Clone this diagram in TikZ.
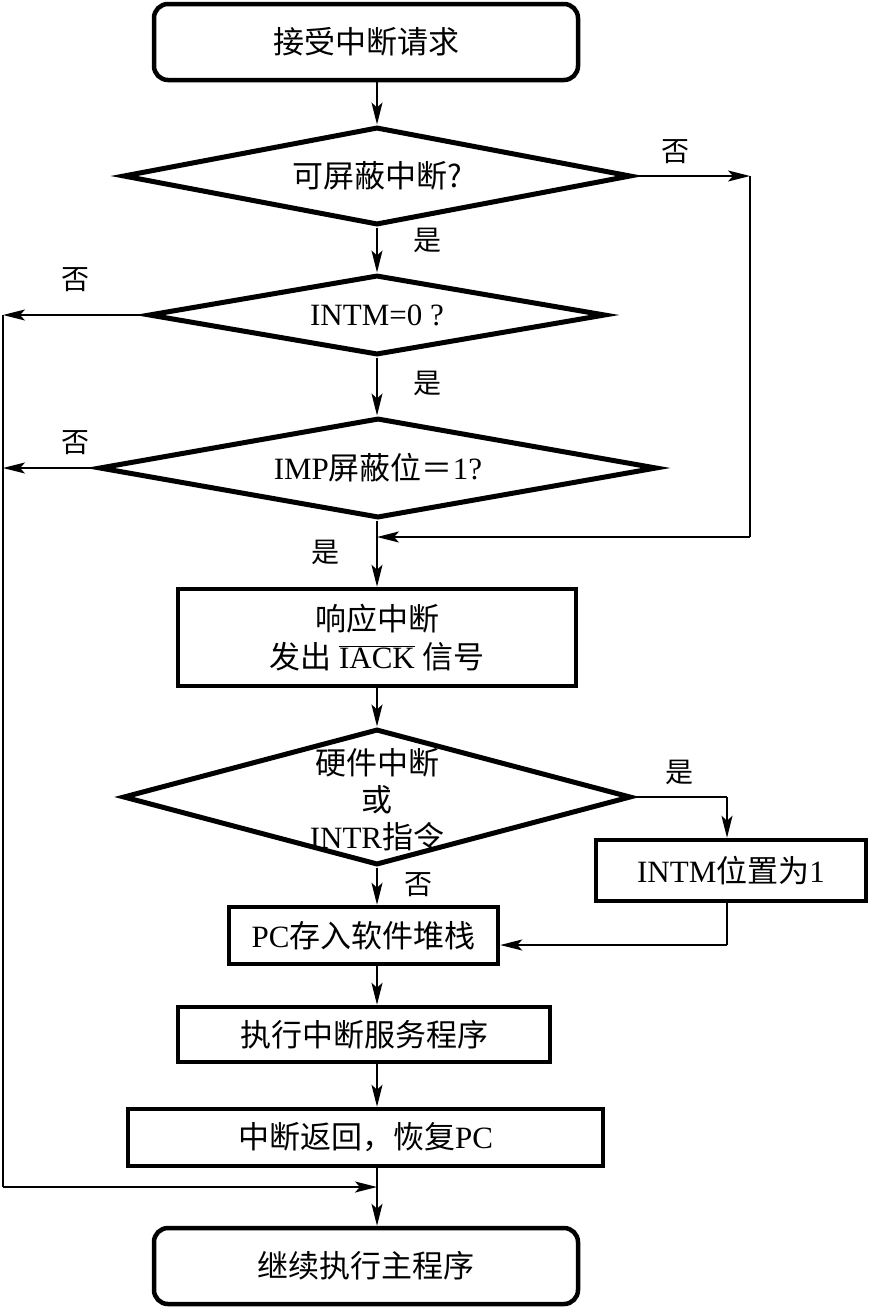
\documentclass[tikz,border=0pt]{standalone}
\usepackage{fontspec}
\setmainfont{Liberation Serif}
\newfontfamily\cjk{Noto Sans CJK SC}
\usetikzlibrary{arrows.meta,shapes.geometric}
\newcommand{\zh}[1]{{\cjk #1}}

\begin{document}
\begin{tikzpicture}[
    x=1pt, y=-1pt,
    every node/.style={font=\fontsize{31}{38}\selectfont},
    box/.style={rectangle,draw,line width=4.5pt,inner sep=0pt,align=center},
    term/.style={box,rounded corners=14pt},
    test/.style={diamond,draw,line width=5pt,inner sep=0pt,align=center},
    arrow/.style={-{Stealth[length=22pt,width=11pt,inset=5pt]},line width=2pt},
    wire/.style={line width=2pt},
    tag/.style={inner sep=0pt,font=\fontsize{28}{32}\selectfont\cjk}
  ]
    \useasboundingbox (0,0) rectangle (870,1309);

    \node[term,minimum width=424,minimum height=76] (start) at (366,42) {\zh{接受中断请求}};
    \node[test,minimum width=508,minimum height=98,aspect=5.2] (mask) at (377,176) {\zh{可屏蔽中断?}};
    \node[test,minimum width=457,minimum height=80,aspect=5.7] (intmTest) at (377,315) {INTM=0 ?};
    \node[test,minimum width=558,minimum height=100,aspect=5.6] (impTest) at (378,468) {IMP\zh{屏蔽位＝}1?};
    \node[box,minimum width=398,minimum height=97] (ack) at (377,637.5) {\zh{响应中断}\\\zh{发出} $\overline{\hbox{IACK}}$ \zh{信号}};
    \node[test,minimum width=508,minimum height=136,aspect=3.75] (hwTest) at (377,797)
      {\smash{\raisebox{-13pt}{\begin{tabular}{@{}c@{}}\zh{硬件中断}\\[-1pt]\zh{或}\\[-1pt]INTR\zh{指令}\end{tabular}}}};
    \node[box,minimum width=270,minimum height=61] (intmSet) at (731,870.5) {INTM\zh{位置为}1};
    \node[box,minimum width=269,minimum height=57] (pcPush) at (363.5,935.5) {PC\zh{存入软件堆栈}};
    \node[box,minimum width=372,minimum height=55] (service) at (364,1034.5) {\zh{执行中断服务程序}};
    \node[box,minimum width=475,minimum height=57] (ret) at (365.5,1137.5) {\zh{中断返回，恢复}PC};
    \node[term,minimum width=424,minimum height=76] (resume) at (366,1266) {\zh{继续执行主程序}};

    \coordinate (noRight) at (750,176);
    \coordinate (joinRight) at (750,537);
    \coordinate (leftTop) at (3,315);
    \coordinate (leftBottom) at (3,1187);
    \coordinate (yesCorner) at (727,797);
    \coordinate (stackCorner) at (727,945);

    \draw[arrow] (start.south -| mask.north) -- (mask.north);
    \draw[arrow] (mask.south) -- (intmTest.north);
    \draw[arrow] (intmTest.south) -- (impTest.north -| intmTest.south);
    \draw[arrow] (impTest.south -| intmTest.south) -- (ack.north);
    \draw[arrow] (ack.south) -- (hwTest.north);
    \draw[arrow] (hwTest.south) -- (pcPush.north -| hwTest.south);
    \draw[arrow] (pcPush.south -| hwTest.south) -- (service.north -| hwTest.south);
    \draw[arrow] (service.south -| hwTest.south) -- (ret.north -| hwTest.south);
    \draw[arrow] (ret.south -| hwTest.south) -- (resume.north -| hwTest.south);

    % masked branch skips the checks
    \draw[arrow] (mask.east) -- (noRight);
    \draw[wire] (noRight) -- (joinRight);
    \draw[arrow] (joinRight) -- (joinRight -| ack.north);

    % rejected interrupts go back to the main program
    \draw[arrow] (intmTest.west) -- (leftTop);
    \draw[arrow] (impTest.west) -- (impTest.west -| leftTop);
    \draw[wire] (leftTop) -- (leftBottom);
    \draw[arrow] (leftBottom) -- (leftBottom -| hwTest.south);

    \draw[wire] (hwTest.east) -- (yesCorner);
    \draw[arrow] (yesCorner) -- (yesCorner |- intmSet.north);
    \draw[wire] (intmSet.south -| yesCorner) -- (stackCorner);
    \draw[arrow] (stackCorner) -- (stackCorner -| pcPush.east);

    \node[tag] (noMask) at (675,152) {否};
    \node[tag] (yesMask) at (427,240) {是};
    \node[tag] (noIntm) at (75,280) {否};
    \node[tag] (yesIntm) at (427,383) {是};
    \node[tag] (noImp) at (75,443) {否};
    \node[tag] (yesImp) at (325,552) {是};
    \node[tag] (yesHw) at (679,772) {是};
    \node[tag] (noHw) at (418,885) {否};
\end{tikzpicture}
\end{document}
